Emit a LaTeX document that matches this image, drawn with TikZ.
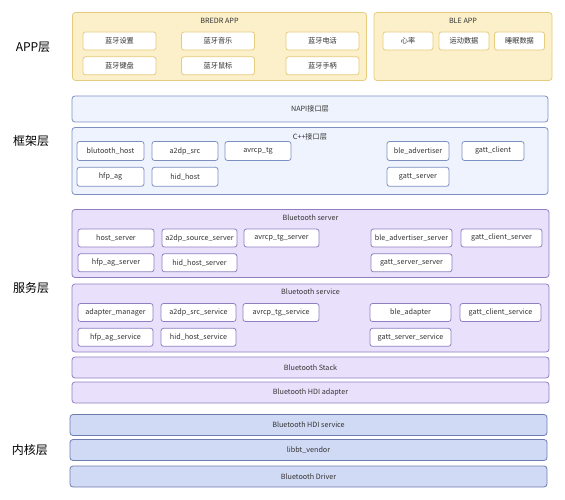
\documentclass[tikz,border=0pt]{standalone}
\usepackage{fontspec}
\setmainfont{Noto Sans CJK SC}
\usepackage{tikz}
\usetikzlibrary{positioning}

\definecolor{appfill}{HTML}{FCF0CA}
\definecolor{appline}{HTML}{E6CC7E}
\definecolor{fwfill}{HTML}{EEF3FD}
\definecolor{fwline}{HTML}{7D90C2}
\definecolor{svfill}{HTML}{E9E1FB}
\definecolor{svline}{HTML}{8F7FC2}
\definecolor{knfill}{HTML}{D0DAF4}
\definecolor{knline}{HTML}{6E7BB0}
\definecolor{txt}{HTML}{333333}

\begin{document}
\begin{tikzpicture}[x=1pt,y=-1pt,line width=0.8pt,inner sep=0pt,text=txt,
    box/.style={draw,rounded corners=3pt},
    app/.style={box,fill=appfill,draw=appline},
    fw/.style={box,fill=fwfill,draw=fwline},
    sv/.style={box,fill=svfill,draw=svline},
    kn/.style={box,fill=knfill,draw=knline},
    item/.style={draw,rounded corners=2.5pt,fill=white,minimum height=18pt,font=\fontsize{7.2}{8}\selectfont},
    title/.style={font=\fontsize{7.2}{8}\selectfont},
    layer/.style={font=\fontsize{12}{14}\selectfont,text=black}]
    \useasboundingbox (0,0) rectangle (565,500);

    % APP
    \node[layer] (lapp) at (33,47) {APP层};
    \node[app,minimum width=294pt,minimum height=68pt] (bredr) at (219.5,46.5) {};
    \node[title] (bredrt) at (219.5,21) {BREDR APP};
    \node[item,draw=appline,minimum width=73pt] (szset) at (119.5,41) {蓝牙设置};
    \node[item,draw=appline,minimum width=73pt] (music) at (218,41) {蓝牙音乐};
    \node[item,draw=appline,minimum width=73pt] (phone) at (322.5,41) {蓝牙电话};
    \node[item,draw=appline,minimum width=73pt] (keyb) [below=6pt of szset] {蓝牙键盘};
    \node[item,draw=appline,minimum width=73pt] (mouse) [below=6pt of music] {蓝牙鼠标};
    \node[item,draw=appline,minimum width=73pt] (pad) [below=6pt of phone] {蓝牙手柄};
    \node[app,minimum width=178pt,minimum height=68pt] (ble) at (463,46.5) {};
    \node[title] (blet) at (463,21) {BLE APP};
    \node[item,draw=appline,minimum width=50pt] (heart) at (408,41) {心率};
    \node[item,draw=appline,minimum width=50pt] (sport) at (464,41) {运动数据};
    \node[item,draw=appline,minimum width=50pt] (sleep) at (519.5,41) {睡眠数据};

    % framework
    \node[layer] (lfw) at (31,141) {框架层};
    \node[fw,minimum width=476pt,minimum height=26pt,title] (napi) at (310,109) {NAPI接口层};
    \node[fw,minimum width=476pt,minimum height=67pt] (cpp) at (310,161) {};
    \node[title] (cppt) at (310,137) {C++接口层};
    \node[item,draw=fwline,minimum width=67pt,minimum height=19pt] (bthost) at (110.5,151) {blutooth\_host};
    \node[item,draw=fwline,minimum width=66pt,minimum height=19pt] (a2dp) at (185,151) {a2dp\_src};
    \node[item,draw=fwline,minimum width=66pt,minimum height=19pt] (avrcp) at (258,151) {avrcp\_tg};
    \node[item,draw=fwline,minimum width=62pt,minimum height=19pt] (bleadv) at (418,151) {ble\_advertiser};
    \node[item,draw=fwline,minimum width=62pt,minimum height=19pt] (gattc) at (493,151) {gatt\_client};
    \node[item,draw=fwline,minimum width=67pt,minimum height=19pt] (hfp) [below=6pt of bthost] {hfp\_ag};
    \node[item,draw=fwline,minimum width=66pt,minimum height=19pt] (hid) [below=6pt of a2dp] {hid\_host};
    \node[item,draw=fwline,minimum width=62pt,minimum height=19pt] (gatts) [below=6pt of bleadv] {gatt\_server};

    % service
    \node[layer] (lsv) at (31,288) {服务层};
    \node[sv,minimum width=477pt,minimum height=68pt] (server) at (310.5,243.5) {};
    \node[title] (servert) at (310.5,218) {Bluetooth server};
    \node[item,draw=svline,minimum width=76pt] (hostsv) at (116,238) {host\_server};
    \node[item,draw=svline,minimum width=75pt] (a2dpsv) at (199.5,238) {a2dp\_source\_server};
    \node[item,draw=svline,minimum width=75pt] (avrcpsv) at (281.5,238) {avrcp\_tg\_server};
    \node[item,draw=svline,minimum width=81pt] (bleadvsv) at (411.5,238) {ble\_advertiser\_server};
    \node[item,draw=svline,minimum width=81pt] (gattcsv) at (501.5,238) {gatt\_client\_server};
    \node[item,draw=svline,minimum width=76pt] (hfpsv) [below=6pt of hostsv] {hfp\_ag\_server};
    \node[item,draw=svline,minimum width=75pt] (hidsv) [below=6pt of a2dpsv] {hid\_host\_server};
    \node[item,draw=svline,minimum width=81pt] (gattssv) [below=6pt of bleadvsv] {gatt\_server\_server};
    \node[sv,minimum width=477pt,minimum height=68pt] (service) at (310.5,318) {};
    \node[title] (servicet) at (310.5,292) {Bluetooth service};
    \node[item,draw=svline,minimum width=75pt] (adapmgr) at (115.5,312.5) {adapter\_manager};
    \node[item,draw=svline,minimum width=75pt] (a2dpsc) at (198.5,312.5) {a2dp\_src\_service};
    \node[item,draw=svline,minimum width=76pt] (avrcpsc) at (281,312.5) {avrcp\_tg\_service};
    \node[item,draw=svline,minimum width=81pt] (bleadap) at (410.5,312.5) {ble\_adapter};
    \node[item,draw=svline,minimum width=81pt] (gattcsc) at (500.5,312.5) {gatt\_client\_service};
    \node[item,draw=svline,minimum width=75pt] (hfpsc) [below=6pt of adapmgr] {hfp\_ag\_service};
    \node[item,draw=svline,minimum width=75pt] (hidsc) [below=6pt of a2dpsc] {hid\_host\_service};
    \node[item,draw=svline,minimum width=81pt] (gattssc) [below=6pt of bleadap] {gatt\_server\_service};
    \node[sv,minimum width=477pt,minimum height=21pt,title] (stack) at (310.5,367.5) {Bluetooth Stack};
    \node[sv,minimum width=477pt,minimum height=21pt,title] (hdiadap) at (310.5,392.5) {Bluetooth HDI adapter};

    % kernel
    \node[layer] (lkn) at (30,450) {内核层};
    \node[kn,minimum width=477pt,minimum height=21pt,title] (hdisv) at (308.5,425) {Bluetooth HDI service};
    \node[kn,minimum width=477pt,minimum height=21pt,title] (vendor) at (308.5,450) {libbt\_vendor};
    \node[kn,minimum width=477pt,minimum height=21pt,title] (driver) at (308.5,476.5) {Bluetooth Driver};
\end{tikzpicture}
\end{document}
